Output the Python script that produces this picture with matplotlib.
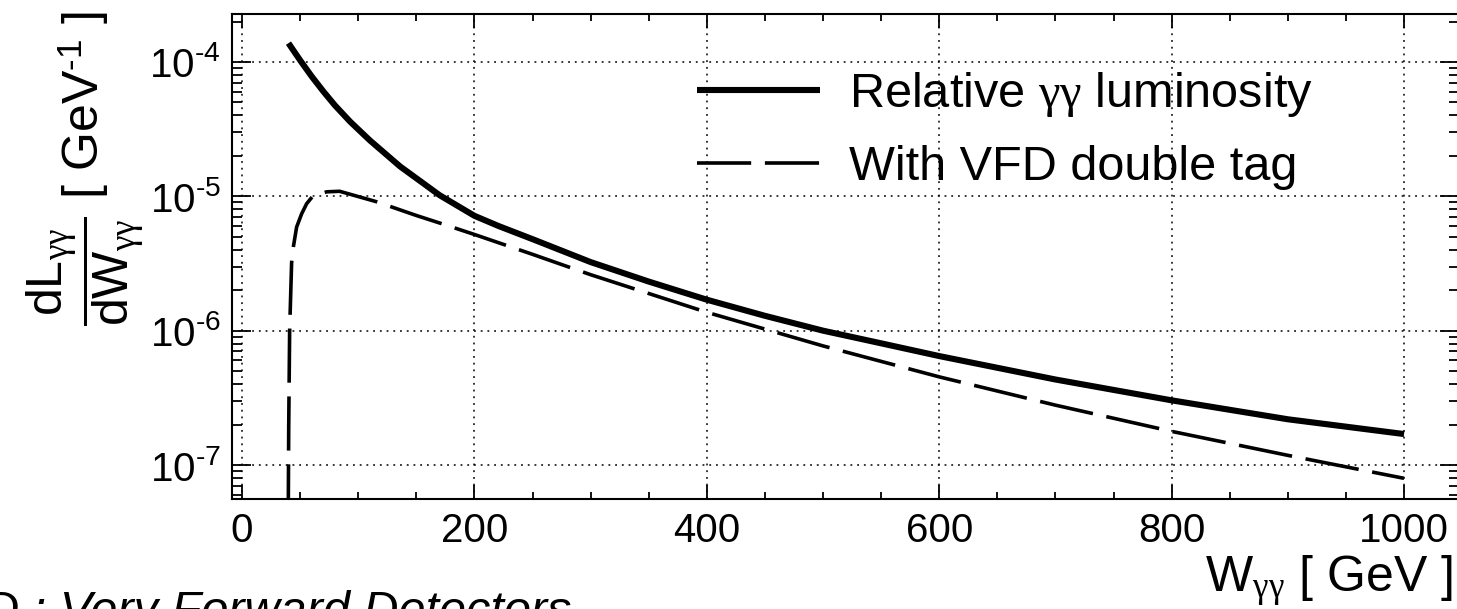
import numpy as np
import matplotlib
matplotlib.use("Agg")
import matplotlib.pyplot as plt
from matplotlib.ticker import FixedLocator, LogLocator, MultipleLocator, NullFormatter

plt.rcParams['font.family'] = ['Liberation Sans', 'DejaVu Sans']
plt.rcParams['mathtext.fontset'] = 'custom'
plt.rcParams['mathtext.rm'] = 'Liberation Sans'
plt.rcParams['mathtext.it'] = 'Liberation Serif'
plt.rcParams['mathtext.bf'] = 'Liberation Sans:bold'

HY = '\u2010'  # trattino corto come in ROOT

# --- dati ---
w_lumi = [40, 50, 60, 70, 80, 93, 110, 136, 170, 200, 221, 250, 300, 350,
          400, 450, 500, 550, 600, 700, 800, 900, 1000]
lumi = [1.38e-4, 1.03e-4, 7.8e-5, 6.04e-5, 4.75e-5, 3.6e-5, 2.61e-5, 1.67e-5,
        1.02e-5, 7.16e-6, 6.0e-6, 4.8e-6, 3.24e-6, 2.32e-6, 1.70e-6, 1.29e-6,
        1.0e-6, 8.05e-7, 6.47e-7, 4.33e-7, 3.03e-7, 2.19e-7, 1.7e-7]

w_tag = [39.8, 40.2, 41.0, 42.7, 44.2, 47.0, 51.3, 55.6, 60.8, 72.9, 84,
         116, 150, 172, 200, 250, 300, 400, 500, 600, 700, 800, 900, 1000]
tag = [4e-8, 1.9e-7, 1.0e-6, 3.2e-6, 4.2e-6, 5.9e-6, 7.4e-6, 8.8e-6, 1.0e-5,
       1.08e-5, 1.09e-5, 9.1e-6, 7.2e-6, 6.25e-6, 5.2e-6, 3.7e-6, 2.61e-6,
       1.37e-6, 7.7e-7, 4.53e-7, 2.79e-7, 1.78e-7, 1.18e-7, 7.96e-8]

x_ticks = [0, 200, 400, 600, 800, 1000]
y_ticks = [1e-7, 1e-6, 1e-5, 1e-4]
y_tick_labels = [r'$\mathrm{10^{' + HY + str(k) + '}}$' for k in (7, 6, 5, 4)]
labels = [r'Relative $\gamma\gamma$ luminosity', 'With VFD double tag']

# --- figura ---
fig = plt.figure(figsize=(14.57, 6.09), dpi=100)
ax = fig.add_axes([232 / 1457, 1 - 499 / 609, (1459 - 232) / 1457, (499 - 14) / 609])

ax.plot(w_lumi, lumi, color='black', lw=4.4, solid_capstyle='butt',
        solid_joinstyle='round', label=labels[0])
ax.plot(w_tag, tag, color='black', lw=2.6, dashes=(15, 3.8),
        dash_capstyle='butt', label=labels[1])

ax.set_yscale('log')
ax.set_xlim(-8.6, 1047.3)
ax.set_ylim(10 ** -7.253, 10 ** -3.643)

ax.xaxis.set_major_locator(FixedLocator(x_ticks))
ax.xaxis.set_minor_locator(MultipleLocator(50))
ax.set_yticks(y_ticks)
ax.set_yticklabels(y_tick_labels)
ax.yaxis.set_minor_locator(LogLocator(base=10, subs=np.arange(2, 10)))
ax.yaxis.set_minor_formatter(NullFormatter())

ax.tick_params(which='both', direction='in', top=True, right=True, width=1.3)
ax.tick_params(axis='x', which='major', length=10, labelsize=29, pad=9)
ax.tick_params(axis='x', which='minor', length=5)
ax.tick_params(axis='y', which='major', length=14, labelsize=29, pad=8)
ax.tick_params(axis='y', which='minor', length=7)

for s in ax.spines.values():
    s.set_linewidth(1.5)

ax.grid(True, which='major', color='black', lw=1.1, linestyle=(0, (1.2, 3.2)))

leg = ax.legend(loc='upper left', bbox_to_anchor=(697 / 1457, 1 - 70 / 609),
                bbox_transform=fig.transFigure, frameon=False, fontsize=35,
                handlelength=2.53, handletextpad=0.6, labelspacing=0.53,
                borderpad=0, borderaxespad=0)

# --- testi ---
fig.text(1453 / 1457, 17 / 609, r'W$_{\gamma\gamma}$ [ GeV ]', fontsize=36,
         ha='right', va='baseline')
fig.text(85 / 1457, 1 - 12 / 609,
         r'$\dfrac{\mathrm{dL}_{\gamma\gamma}}{\mathrm{dW}_{\gamma\gamma}}$ [ GeV$^{'
         + HY + '1}$ ]',
         fontsize=36, rotation=90, ha='center', va='top')
fig.text(572 / 1457, -16 / 609, 'VFD : Very Forward Detectors', fontsize=35,
         style='italic', ha='right', va='baseline')

fig.savefig('out.png', dpi=100)
